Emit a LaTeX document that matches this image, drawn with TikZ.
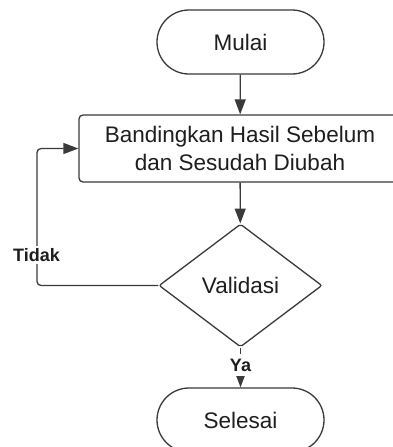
\documentclass[tikz,border=0pt]{standalone}
\usepackage{fontspec}
\setmainfont{Liberation Sans}
\usetikzlibrary{shapes.geometric,arrows.meta}
\definecolor{linec}{HTML}{3A3A3A}
\definecolor{textc}{HTML}{1E1E1E}
\tikzset{
  base/.style={draw=linec, line width=1.3pt, text=textc, font=\fontsize{22.5}{27.5}\selectfont, inner sep=0pt},
  term/.style={base, minimum width=167pt, minimum height=64pt, rounded corners=32pt},
  proc/.style={base, minimum width=322pt, minimum height=67pt, rounded corners=4pt, align=center},
  deci/.style={base, diamond, minimum width=163pt, minimum height=123pt, rounded corners=2pt},
  conn/.style={draw=linec, line width=1.3pt, -{Triangle[length=15pt,width=11pt]}},
  lbl/.style={fill=white, text=textc, font=\bfseries\fontsize{18}{20}\selectfont, inner xsep=2pt, inner ysep=5pt}
}
\begin{document}
\begin{tikzpicture}[x=1pt,y=-1pt]
\useasboundingbox (0,0) rectangle (393,447);
\fill[white] (0,0) rectangle (393,447);
\node[term] (start) at (240.5,42) {Mulai};
\node[proc] (cmp) at (240,148.5) {Bandingkan Hasil Sebelum\\dan Sesudah Diubah};
\node[deci] (val) at (240.5,285.5) {Validasi};
\node[term] (end) at (240.5,420) {Selesai};
\coordinate (lp) at (37,0);
\draw[conn] (start) -- (cmp);
\draw[conn] (cmp) -- (val);
\draw[conn] (val) -- (end) node[lbl, pos=0.44] (ya) {Ya};
\draw[conn, rounded corners=4pt] (val.west) -| (lp |- cmp.west) -- (cmp.west);
\node[lbl, inner ysep=2pt] (tidak) at (36.5,255) {Tidak};
\end{tikzpicture}
\end{document}
